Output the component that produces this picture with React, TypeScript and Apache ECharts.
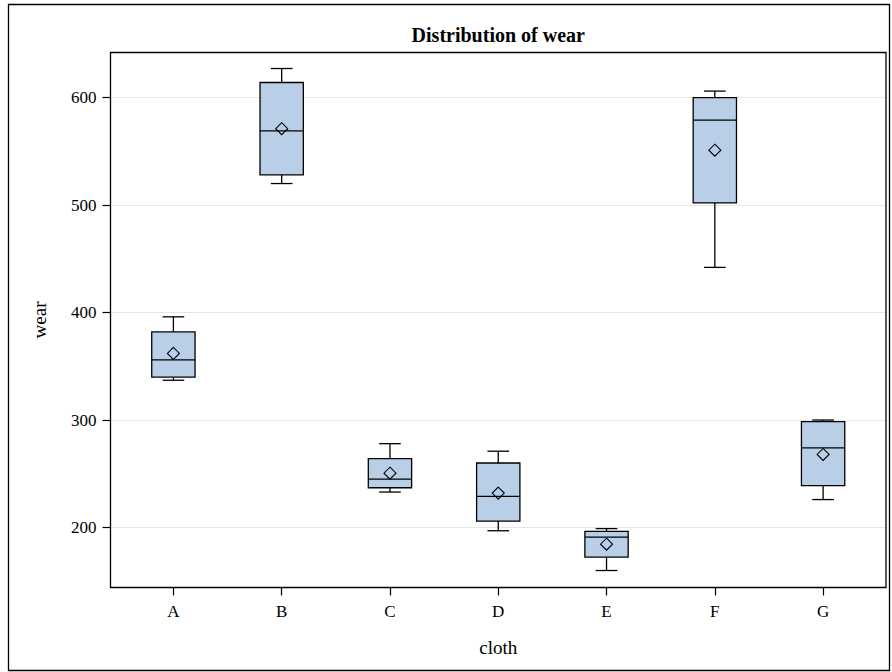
import React, { useEffect, useRef } from "react";
import * as echarts from "echarts";

const categories = ["A", "B", "C", "D", "E", "F", "G"];
const whiskerLow = [337, 520, 233, 197, 160, 442, 226];
const quartile1 = [340, 528, 237, 206, 172.5, 502, 239];
const medians = [356, 569, 245, 229, 191, 579, 274];
const quartile3 = [382, 614, 264, 260, 196.5, 600, 298.5];
const whiskerHigh = [396, 627, 278, 271, 199, 606, 300];
const means = [362, 571, 250.5, 232, 184.5, 551, 268];
const yTicks = [200, 300, 400, 500, 600];

const Y_MIN = 144.2;
const Y_MAX = 641.9;
const FONT = "'Liberation Serif', 'Times New Roman', serif";

const PLOT_L = 110.5;
const PLOT_T = 52.5;
const PLOT_W = 775.5;
const PLOT_H = 535;
const PAD = 8.75;

export default function App() {
  const ref = useRef<HTMLDivElement>(null);
  useEffect(() => {
    if (!ref.current) return;
    const chart = echarts.init(ref.current, null, { renderer: "svg" });
    const rows = categories.map((c, i) => [
      i,
      whiskerLow[i],
      quartile1[i],
      medians[i],
      quartile3[i],
      whiskerHigh[i],
      means[i],
    ]);
    const option: any = {
      animation: false,
      backgroundColor: "#fff",
      grid: [
        { left: PLOT_L, top: PLOT_T, width: PLOT_W, height: PLOT_H, show: false },
        { left: PLOT_L + PAD, top: PLOT_T, width: PLOT_W - 2 * PAD, height: PLOT_H, show: false },
      ],
      xAxis: [
        { gridIndex: 0, type: "value", min: 0, max: 1, show: false },
        {
          gridIndex: 1,
          type: "category",
          data: categories,
          boundaryGap: true,
          axisLine: { show: false },
          axisTick: { show: true, alignWithLabel: true, length: 8, lineStyle: { color: "#000", width: 1.2 } },
          axisLabel: { color: "#000", fontFamily: FONT, fontSize: 17, margin: 15 },
          name: "cloth",
          nameLocation: "middle",
          nameGap: 50,
          nameTextStyle: { color: "#000", fontFamily: FONT, fontSize: 19 },
          splitLine: { show: false },
        },
      ],
      yAxis: [
        {
          gridIndex: 0,
          type: "value",
          min: Y_MIN,
          max: Y_MAX,
          axisLine: { show: false },
          axisTick: { show: true, length: 8, customValues: yTicks, lineStyle: { color: "#000", width: 1.2 } },
          axisLabel: { color: "#000", fontFamily: FONT, fontSize: 17, margin: 14, customValues: yTicks },
          splitLine: { show: true, lineStyle: { color: "#e6e6e6", width: 1 } },
          name: "wear",
          nameLocation: "middle",
          nameGap: 62,
          nameRotate: 90,
          nameTextStyle: { color: "#000", fontFamily: FONT, fontSize: 19 },
        },
        { gridIndex: 1, type: "value", min: Y_MIN, max: Y_MAX, show: false },
      ],
      graphic: [
        {
          type: "rect",
          z: 100,
          silent: true,
          shape: { x: PLOT_L, y: PLOT_T, width: PLOT_W, height: PLOT_H },
          style: { fill: "none", stroke: "#000", lineWidth: 1.3 },
        },
        {
          type: "rect",
          z: 100,
          silent: true,
          shape: { x: 8.5, y: 4.5, width: 881, height: 666 },
          style: { fill: "none", stroke: "#000", lineWidth: 1.3 },
        },
        {
          type: "text",
          z: 100,
          x: PLOT_L + PLOT_W / 2,
          y: 35,
          style: {
            text: "Distribution of wear",
            fontFamily: FONT,
            fontSize: 20,
            fontWeight: "bold",
            fill: "#000",
            align: "center",
            verticalAlign: "middle",
          },
        },
      ],
      series: [
        {
          type: "custom",
          xAxisIndex: 1,
          yAxisIndex: 1,
          data: rows,
          encode: { x: 0, y: [1, 2, 3, 4, 5, 6] },
          renderItem: (params: any, api: any) => {
            const idx = api.value(0);
            const band = api.size([1, 0])[0];
            const bw = band * 0.4;
            const cw = bw / 2;
            const cx = api.coord([idx, api.value(3)])[0];
            const yLo = api.coord([idx, api.value(1)])[1];
            const yQ1 = api.coord([idx, api.value(2)])[1];
            const yMed = api.coord([idx, api.value(3)])[1];
            const yQ3 = api.coord([idx, api.value(4)])[1];
            const yHi = api.coord([idx, api.value(5)])[1];
            const yMean = api.coord([idx, api.value(6)])[1];
            const stroke = { stroke: "#000", lineWidth: 1.3 };
            const d = 6;
            return {
              type: "group",
              children: [
                { type: "line", shape: { x1: cx, y1: yQ3, x2: cx, y2: yHi }, style: stroke },
                { type: "line", shape: { x1: cx, y1: yQ1, x2: cx, y2: yLo }, style: stroke },
                { type: "line", shape: { x1: cx - cw / 2, y1: yHi, x2: cx + cw / 2, y2: yHi }, style: stroke },
                { type: "line", shape: { x1: cx - cw / 2, y1: yLo, x2: cx + cw / 2, y2: yLo }, style: stroke },
                {
                  type: "rect",
                  shape: { x: cx - bw / 2, y: yQ3, width: bw, height: yQ1 - yQ3 },
                  style: { fill: "#b9cfe7", stroke: "#000", lineWidth: 1.3 },
                },
                { type: "line", shape: { x1: cx - bw / 2, y1: yMed, x2: cx + bw / 2, y2: yMed }, style: stroke },
                {
                  type: "polygon",
                  shape: { points: [[cx, yMean - d], [cx + d, yMean], [cx, yMean + d], [cx - d, yMean]] },
                  style: { fill: "none", stroke: "#000", lineWidth: 1.1 },
                },
              ],
            };
          },
        },
      ],
    };
    chart.setOption(option);
    return () => chart.dispose();
  }, []);
  return (
    <div
      ref={ref}
      style={{ position: "absolute", left: 0, top: 0, width: 892, height: 672 }}
    />
  );
}
